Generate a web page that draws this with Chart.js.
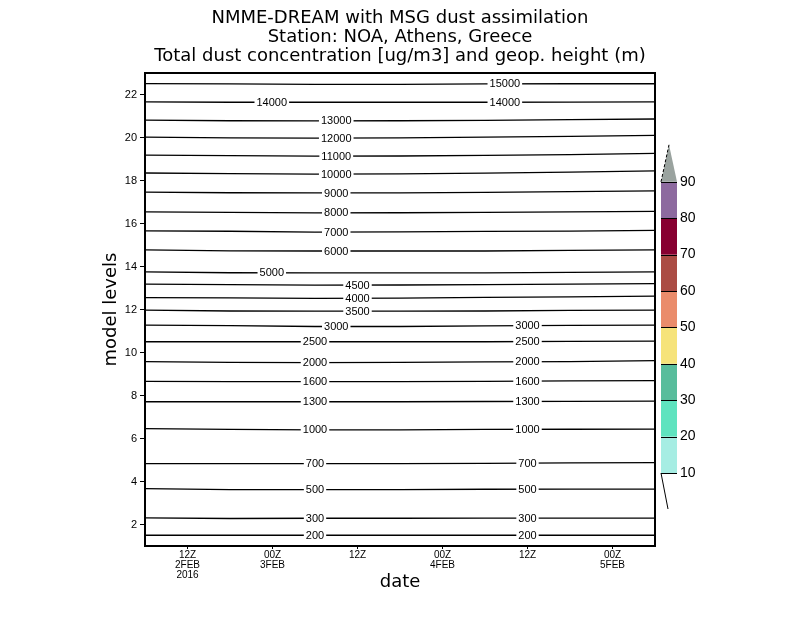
<!DOCTYPE html>
<html>
<head>
<meta charset="utf-8">
<title>NMME-DREAM dust - Athens</title>
<script src="https://cdn.jsdelivr.net/npm/chart.js@4/dist/chart.umd.min.js"></script>
<style>
  html, body { margin: 0; padding: 0; background: #fff; }
  #wrap { width: 800px; height: 618px; }
</style>
</head>
<body>
<div id="wrap"><canvas id="chart"></canvas></div>
<script>
//! Data (hours since 06Z 2FEB2016, values are model levels)

const hours = [0, 12, 24, 36, 48, 60, 72];

const heights = [15000, 14000, 13000, 12000, 11000, 10000, 9000, 8000, 7000, 6000,
  5000, 4500, 4000, 3500, 3000, 2500, 2000, 1600, 1300, 1000, 700, 500, 300, 200];

const z15000 = [22.51, 22.49, 22.47, 22.47, 22.49, 22.50, 22.50];
const z14000 = [21.66, 21.64, 21.64, 21.64, 21.64, 21.65, 21.66];
const z13000 = [20.81, 20.78, 20.77, 20.78, 20.80, 20.83, 20.86];
const z12000 = [20.02, 19.98, 19.97, 19.98, 20.02, 20.05, 20.10];
const z11000 = [19.18, 19.16, 19.13, 19.14, 19.17, 19.20, 19.26];
const z10000 = [18.35, 18.32, 18.30, 18.31, 18.34, 18.39, 18.45];
const z9000 = [17.46, 17.43, 17.42, 17.42, 17.45, 17.48, 17.52];
const z8000 = [16.54, 16.52, 16.49, 16.50, 16.52, 16.54, 16.56];
const z7000 = [15.66, 15.64, 15.60, 15.61, 15.63, 15.65, 15.68];
const z6000 = [14.77, 14.73, 14.72, 14.72, 14.72, 14.75, 14.77];
const z5000 = [13.75, 13.71, 13.70, 13.70, 13.70, 13.73, 13.75];
const z4500 = [13.18, 13.16, 13.13, 13.14, 13.16, 13.18, 13.20];
const z4000 = [12.55, 12.54, 12.52, 12.53, 12.56, 12.59, 12.62];
const z3500 = [11.97, 11.93, 11.92, 11.92, 11.93, 11.96, 11.97];
const z3000 = [11.27, 11.25, 11.21, 11.21, 11.24, 11.26, 11.27];
const z2500 = [10.50, 10.50, 10.50, 10.50, 10.50, 10.52, 10.53];
const z2000 = [9.58, 9.54, 9.53, 9.54, 9.56, 9.58, 9.62];
const z1600 = [8.66, 8.65, 8.65, 8.65, 8.66, 8.68, 8.69];
const z1300 = [7.71, 7.71, 7.71, 7.71, 7.72, 7.73, 7.74];
const z1000 = [6.46, 6.42, 6.40, 6.40, 6.42, 6.43, 6.44];
const z700 = [4.83, 4.83, 4.83, 4.83, 4.84, 4.87, 4.88];
const z500 = [3.67, 3.62, 3.62, 3.62, 3.64, 3.65, 3.65];
const z300 = [2.31, 2.28, 2.29, 2.29, 2.30, 2.30, 2.30];
const z200 = [1.50, 1.50, 1.50, 1.50, 1.50, 1.50, 1.50];

const contours = [z15000, z14000, z13000, z12000, z11000, z10000, z9000, z8000, z7000, z6000,
  z5000, z4500, z4000, z3500, z3000, z2500, z2000, z1600, z1300, z1000, z700, z500, z300, z200];

// where along the time axis each contour carries its label (hours)
const labelAt = [[50.8], [17.9, 50.8], [27], [27], [27], [27], [27], [27], [27], [27],
  [17.9], [30], [30], [30], [27, 54], [24, 54], [24, 54], [24, 54], [24, 54], [24, 54],
  [24, 54], [24, 54], [24, 54], [24, 54]];

const xTickHours = [6, 18, 30, 42, 54, 66];
const xTickLabels = [["12Z", "2FEB", "2016"], ["00Z", "3FEB"], ["12Z"], ["00Z", "4FEB"], ["12Z"], ["00Z", "5FEB"]];
const yTicks = [2, 4, 6, 8, 10, 12, 14, 16, 18, 20, 22];

const cbarLevels = [10, 20, 30, 40, 50, 60, 70, 80, 90];
const cbarColors = ["#a6ede3", "#5fe3bf", "#58bd9c", "#f6e37a", "#ea8c6b", "#ab4c44", "#870031", "#8d6a9f", "#9aa39f"];

//! Helpers

const smallFont = "'Liberation Sans', Arial, sans-serif";
const bigFont = "'DejaVu Sans', sans-serif";

function valueAt(row, h) {
  for (let i = 1; i < hours.length; i++) {
    if (h <= hours[i]) {
      const t = (h - hours[i - 1]) / (hours[i] - hours[i - 1]);
      return row[i - 1] + t * (row[i] - row[i - 1]);
    }
  }
  return row[row.length - 1];
}

//! Contour labels, frame and colour bar

const extras = {
  id: "extras",
  afterDatasetsDraw(chart) {
    const { ctx, chartArea: a, scales: { x, y } } = chart;
    ctx.save();

    // contour labels
    ctx.font = "11px " + smallFont;
    ctx.textAlign = "center";
    ctx.textBaseline = "middle";
    contours.forEach((row, i) => {
      labelAt[i].forEach((h) => {
        const px = x.getPixelForValue(h);
        const py = y.getPixelForValue(valueAt(row, h));
        const txt = String(heights[i]);
        const w = ctx.measureText(txt).width + 4;
        ctx.fillStyle = "#fff";
        ctx.fillRect(px - w / 2, py - 2, w, 4);
        ctx.fillStyle = "#000";
        ctx.fillText(txt, px, py + 0.5);
      });
    });

    // frame
    ctx.strokeStyle = "#000";
    ctx.lineWidth = 2;
    ctx.strokeRect(a.left, a.top, a.right - a.left, a.bottom - a.top);

    // colour bar
    const bx = a.right + 6, bw = 16, bottom = 473, step = 36.4;
    const n = cbarLevels.length - 1;
    for (let i = 0; i < n; i++) {
      ctx.fillStyle = cbarColors[i];
      ctx.fillRect(bx, bottom - (i + 1) * step, bw, step);
    }
    const topY = bottom - n * step;
    ctx.fillStyle = cbarColors[n];
    ctx.beginPath();
    ctx.moveTo(bx, topY);
    ctx.lineTo(bx + bw / 2, topY - 37);
    ctx.lineTo(bx + bw, topY);
    ctx.closePath();
    ctx.fill();

    ctx.lineWidth = 1;
    ctx.strokeStyle = "#000";
    for (let i = 0; i <= n; i++) {
      const yy = Math.round(bottom - i * step) + 0.5;
      ctx.beginPath();
      ctx.moveTo(bx, yy);
      ctx.lineTo(bx + bw, yy);
      ctx.stroke();
    }
    ctx.setLineDash([3, 2]);
    ctx.beginPath();
    ctx.moveTo(bx, topY);
    ctx.lineTo(bx + bw / 2, topY - 37);
    ctx.stroke();
    ctx.setLineDash([]);
    ctx.beginPath();
    ctx.moveTo(bx, bottom);
    ctx.lineTo(bx + 7, bottom + 36);
    ctx.stroke();

    ctx.fillStyle = "#000";
    ctx.font = "14px " + smallFont;
    ctx.textAlign = "left";
    ctx.textBaseline = "middle";
    cbarLevels.forEach((v, i) => {
      ctx.fillText(String(v), bx + bw + 3, bottom - i * step);
    });

    ctx.restore();
  },
};

//! Chart JS

const chart = document.getElementById("chart");

new Chart(chart, {
  type: "line",
  data: {
    datasets: contours.map((row, i) => ({
      label: String(heights[i]),
      data: hours.map((h, j) => ({ x: h, y: row[j] })),
      borderColor: "#000",
      borderWidth: 1.3,
      pointRadius: 0,
      tension: 0,
      fill: false,
    })),
  },
  options: {
    responsive: true,
    maintainAspectRatio: false,
    animation: false,
    events: [],
    layout: {
      padding: 0,
    },
    plugins: {
      legend: { display: false },
      tooltip: { enabled: false },
      title: {
        display: true,
        text: [
          "NMME-DREAM with MSG dust assimilation",
          "Station: NOA, Athens, Greece",
          "Total dust concentration [ug/m3] and geop. height (m)",
        ],
        color: "#000",
        font: { family: bigFont, size: 18, weight: "normal", lineHeight: "19px" },
        padding: { top: 9, bottom: 7 },
      },
    },
    scales: {
      x: {
        type: "linear",
        min: 0,
        max: 72,
        afterBuildTicks: (s) => {
          s.ticks = xTickHours.map((v) => ({ value: v }));
        },
        afterFit: (s) => {
          s.height = 72;
        },
        grid: { drawOnChartArea: false, drawTicks: true, tickLength: 3, tickColor: "#000", tickWidth: 1 },
        border: { display: false },
        ticks: {
          color: "#000",
          font: { family: smallFont, size: 10, lineHeight: 1.0 },
          padding: 1,
          maxRotation: 0,
          autoSkip: false,
          callback: (v, i) => xTickLabels[i],
        },
        title: {
          display: true,
          text: "date",
          color: "#000",
          font: { family: bigFont, size: 18 },
          padding: { top: 0, bottom: 25 },
        },
      },
      y: {
        type: "linear",
        min: 1,
        max: 23,
        afterBuildTicks: (s) => {
          s.ticks = yTicks.map((v) => ({ value: v }));
        },
        afterFit: (s) => {
          s.width = 145;
        },
        grid: { drawOnChartArea: false, drawTicks: true, tickLength: 5, tickColor: "#000", tickWidth: 1 },
        border: { display: false },
        ticks: {
          color: "#000",
          font: { family: smallFont, size: 11 },
          padding: 3,
          autoSkip: false,
        },
        title: {
          display: true,
          text: "model levels",
          color: "#000",
          font: { family: bigFont, size: 18 },
          padding: { top: 101, bottom: 0 },
        },
      },
      // empty right-hand strip that holds the colour bar
      side: {
        type: "linear",
        position: "right",
        min: 0,
        max: 1,
        grid: { display: false },
        border: { display: false },
        ticks: { display: false },
        afterFit: (s) => {
          s.width = 145;
        },
      },
    },
  },
  plugins: [extras],
});
</script>
</body>
</html>
